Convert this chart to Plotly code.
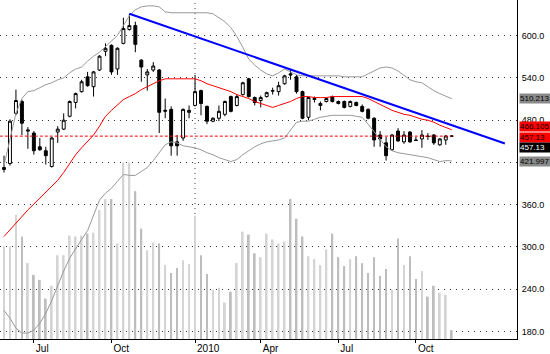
import plotly.graph_objects as go

# ---------------- data (weekly bars) ----------------
opens = [409.8, 418.2, 489.5, 506.3, 464.3, 461.5, 442.0, 436.4, 414.0, 462.9,
         467.1, 485.3, 504.9, 520.3, 541.3, 527.3, 551.0, 577.6, 586.0, 552.4,
         588.8, 608.4, 614.0, 565.0, 544.1, 551.0, 551.0, 492.3, 495.1, 449.0,
         454.5, 490.9, 500.7, 521.7, 499.3, 478.3, 482.5, 488.1, 513.3, 500.7,
         516.1, 538.5, 511.9, 507.7, 513.3, 521.0, 520.3, 531.5, 545.5, 541.3,
         520.3, 483.9, 509.1, 500.7, 506.3, 513.3, 506.3, 506.3, 499.3, 504.9,
         499.3, 495.1, 482.5, 458.7, 447.6, 437.8, 464.3, 449.0, 462.9, 451.7,
         453.1, 457.3, 458.7, 444.8, 451.7, 457.3]
highs = [429.4, 481.1, 523.1, 509.1, 469.9, 464.3, 454.5, 442.0, 455.9, 471.3,
         489.5, 507.7, 518.9, 537.1, 548.3, 549.7, 572.0, 588.8, 587.4, 583.2,
         625.2, 630.8, 619.6, 566.4, 552.4, 562.2, 552.4, 510.5, 499.3, 458.7,
         496.5, 500.7, 544.1, 523.1, 500.7, 483.9, 500.7, 507.7, 514.7, 516.1,
         534.3, 539.9, 513.3, 514.7, 520.3, 525.9, 534.3, 544.1, 552.4, 544.1,
         521.7, 513.3, 513.3, 506.3, 511.9, 514.7, 507.7, 507.7, 507.7, 506.3,
         502.1, 496.5, 483.9, 464.3, 455.9, 460.1, 468.5, 464.3, 464.3, 455.9,
         465.7, 461.5, 460.1, 454.5, 458.7, 458.0]
lows = [405.6, 415.4, 486.7, 458.7, 439.2, 430.8, 436.4, 416.8, 412.6, 447.6,
        465.7, 483.9, 496.5, 518.9, 527.3, 513.3, 549.7, 570.6, 544.1, 544.1,
        587.4, 607.0, 576.2, 534.3, 521.7, 548.3, 461.5, 482.5, 429.4, 429.4,
        450.4, 482.5, 499.3, 486.7, 474.1, 476.9, 478.3, 485.3, 490.9, 499.3,
        514.7, 511.9, 500.7, 497.9, 511.9, 516.1, 514.7, 530.1, 537.1, 517.5,
        481.1, 479.7, 504.9, 493.7, 504.9, 504.9, 502.1, 496.5, 497.9, 499.3,
        490.9, 481.1, 442.0, 442.0, 422.4, 436.4, 449.0, 446.2, 447.6, 450.4,
        440.6, 451.7, 444.8, 443.4, 444.8, 456.6]
closes = [412.6, 478.3, 507.7, 475.5, 465.7, 436.4, 437.8, 429.4, 454.5, 467.1,
          479.7, 506.3, 517.5, 534.3, 528.7, 548.3, 570.6, 581.8, 548.3, 581.8,
          609.8, 614.0, 587.4, 555.2, 548.3, 556.6, 490.9, 493.7, 443.4, 443.4,
          495.1, 493.7, 520.3, 503.5, 478.3, 482.5, 492.3, 506.3, 492.3, 513.3,
          532.9, 513.3, 504.9, 511.9, 518.9, 521.7, 528.7, 542.7, 544.1, 520.3,
          482.5, 511.9, 510.5, 503.5, 510.5, 506.3, 503.5, 497.9, 506.3, 500.7,
          492.3, 482.5, 451.7, 453.1, 429.4, 458.7, 450.4, 458.7, 449.0, 451.0,
          458.7, 456.6, 447.6, 453.1, 457.3, 457.13]
volume = [9.4, 9.4, 12.6, 10.4, 7.7, 6.5, 6.0, 4.1, 5.4, 8.5,
          8.5, 10.5, 10.4, 10.5, 10.7, 10.8, 13.1, 14.2, 14.2, 9.7,
          17.9, 17.9, 15.0, 11.2, 9.0, 9.8, 9.7, 7.5, 6.7, 7.2,
          8.0, 7.6, 12.5, 8.5, 6.6, 5.0, 5.2, 3.7, 4.8, 7.7,
          10.9, 10.6, 8.7, 8.3, 10.7, 10.1, 9.7, 9.9, 14.2, 12.2,
          10.4, 8.4, 8.1, 7.5, 9.1, 10.7, 8.3, 7.4, 8.1, 8.4,
          7.7, 6.7, 8.3, 6.4, 7.1, 5.0, 10.2, 7.5, 8.4, 6.1,
          6.9, 4.3, 5.4, 4.7, 4.5, 0.9]
upper_band = [415.4, 454.5, 489.5, 510.5, 520.3, 521.7, 525.9, 530.1, 532.9, 537.1,
              539.9, 546.9, 552.4, 555.2, 563.6, 570.6, 576.2, 584.6, 591.6, 600.0,
              614.0, 628.0, 636.4, 640.6, 642.0, 642.0, 640.6, 633.6, 632.2, 632.2,
              632.2, 632.2, 632.2, 632.2, 632.2, 630.8, 625.2, 619.6, 611.2, 598.6,
              583.2, 566.4, 558.0, 551.0, 545.5, 542.7, 546.9, 552.4, 548.3, 544.1,
              542.7, 542.7, 542.7, 542.7, 542.7, 542.7, 542.7, 541.3, 541.3, 541.3,
              541.3, 545.5, 549.6, 553.9, 555.2, 553.9, 549.6, 542.7, 537.1, 534.3,
              532.9, 527.3, 521.7, 517.5, 513.3, 510.213]
ma20 = [314.7, 324.5, 332.9, 342.7, 352.4, 360.8, 369.2, 377.6, 386.0, 394.4,
        405.6, 418.2, 430.8, 440.6, 449.0, 458.7, 471.3, 485.3, 493.7, 502.1,
        509.1, 513.3, 517.5, 523.1, 527.3, 531.5, 535.7, 538.5, 538.5, 538.5,
        538.5, 538.5, 538.5, 535.7, 531.5, 528.7, 525.9, 523.1, 520.3, 516.1,
        513.3, 510.5, 506.3, 503.5, 500.7, 497.9, 500.7, 503.5, 506.3, 510.5,
        513.3, 513.3, 511.9, 511.9, 511.9, 513.3, 513.3, 513.3, 513.3, 513.3,
        513.3, 510.5, 506.3, 502.1, 497.9, 493.7, 490.9, 488.1, 486.7, 483.9,
        481.1, 479.7, 476.9, 472.7, 469.9, 466.105]
lower_band = [209.8, 198.6, 184.6, 177.6, 177.6, 181.8, 191.6, 205.6, 223.8, 244.8,
              265.7, 283.9, 297.9, 310.5, 323.1, 344.1, 366.4, 376.2, 383.2, 393.0,
              402.8, 401.4, 401.4, 407.0, 412.6, 422.4, 433.6, 444.8, 449.0, 447.6,
              443.4, 442.0, 440.6, 437.8, 433.6, 430.8, 426.6, 423.8, 421.0, 423.8,
              430.8, 436.4, 442.0, 446.2, 449.0, 450.4, 451.7, 454.5, 465.7, 476.9,
              478.3, 478.3, 481.1, 483.9, 485.3, 486.7, 486.7, 486.7, 486.7, 485.3,
              483.9, 474.1, 462.9, 451.7, 442.0, 436.4, 433.6, 432.2, 430.8, 429.4,
              428.0, 426.6, 423.8, 421.0, 422.4, 421.997]
tick_pos = [5, 18, 32, 43, 56, 69]
tick_labels = ["Jul", "Oct", "2010", "Apr", "Jul", "Oct"]
price_ticks = [180, 240, 300, 360, 420, 480, 540, 600]
price_tick_text = ["180.0", "240.0", "300.0", "360.0", "", "480.0", "540.0", "600.0"]
trend_x = [21, 83.9]
trend_y = [630.8, 446.6]
last_close = 457.13

# ---------------- figure ----------------
n = len(closes)
xs = list(range(n))
FONT = "Liberation Sans, Arial, sans-serif"

vol_colors = ["#d4d4d4" if c >= o else "#bdbdbd" for o, c in zip(opens, closes)]

fig = go.Figure()
fig.add_trace(go.Bar(x=xs, y=volume, width=0.3, marker=dict(color=vol_colors, line=dict(width=0)),
                     yaxis="y", hoverinfo="skip", showlegend=False))
fig.add_trace(go.Scatter(x=xs, y=upper_band, mode="lines", line=dict(color="#999999", width=1),
                         yaxis="y2", hoverinfo="skip", showlegend=False))
fig.add_trace(go.Scatter(x=xs, y=lower_band, mode="lines", line=dict(color="#999999", width=1),
                         yaxis="y2", hoverinfo="skip", showlegend=False))
fig.add_trace(go.Scatter(x=xs, y=ma20, mode="lines", line=dict(color="#ff0000", width=1),
                         yaxis="y2", hoverinfo="skip", showlegend=False))
fig.add_trace(go.Scatter(x=[-0.7, n - 1], y=[last_close, last_close], mode="lines",
                         line=dict(color="#ff0000", width=1, dash="3px,2px"),
                         yaxis="y2", hoverinfo="skip", showlegend=False))
fig.add_trace(go.Candlestick(x=xs, open=opens, high=highs, low=lows, close=closes,
                             increasing=dict(fillcolor="#ffffff", line=dict(color="#000000", width=1)),
                             decreasing=dict(fillcolor="#000000", line=dict(color="#000000", width=1)),
                             yaxis="y2", hoverinfo="skip", showlegend=False))
fig.add_trace(go.Scatter(x=trend_x, y=trend_y, mode="lines", line=dict(color="#0000ff", width=2),
                         yaxis="y2", hoverinfo="skip", showlegend=False))

# vertical dotted year divider
fig.add_shape(type="line", xref="x", yref="paper", x0=tick_pos[2], x1=tick_pos[2], y0=0, y1=1,
              line=dict(color="#444444", width=1, dash="1px,4px"), layer="below")

# right-hand value labels
labels = [
    (upper_band[-1], "{:.3f}".format(upper_band[-1]), "#8a8a8a", "#000000", 0),
    (ma20[-1], "{:.3f}".format(ma20[-1]), "#ff0000", "#000000", 3.5),
    (last_close, "{:.2f}".format(last_close), "#ff0000", "#000000", -1),
    (closes[-1], "{:.2f}".format(closes[-1]), "#000000", "#ffffff", -11),
    (lower_band[-1], "{:.3f}".format(lower_band[-1]), "#8a8a8a", "#000000", -1),
]
for val, txt, bg, fg, shift in labels:
    fig.add_annotation(xref="paper", x=1.0, xanchor="left", xshift=2, yref="y2", y=val,
                       yshift=shift, text=txt, showarrow=False, bgcolor=bg, borderpad=0,
                       height=9, width=31, align="left",
                       font=dict(family=FONT, size=8, color=fg))

fig.update_layout(
    width=550, height=354,
    margin=dict(l=0, r=33, t=0, b=10),
    paper_bgcolor="#ffffff", plot_bgcolor="#ffffff",
    showlegend=False,
    font=dict(family=FONT, size=9, color="#000000"),
    xaxis=dict(range=[-0.67, 85.93], tickmode="array", tickvals=tick_pos, ticktext=tick_labels,
               ticks="outside", ticklen=3, tickcolor="#000000", ticklabelposition="outside right",
               ticklabelshift=1, showline=True, linecolor="#000000", linewidth=1,
               showgrid=False, zeroline=False, rangeslider=dict(visible=False),
               tickfont=dict(family=FONT, size=10)),
    yaxis=dict(range=[0, 34.4], visible=False, showgrid=False, zeroline=False),
    yaxis2=dict(range=[169.2, 650.35], overlaying="y", side="right", tickmode="array",
                tickvals=price_ticks, ticktext=price_tick_text, ticks="", showline=True,
                linecolor="#000000", linewidth=1, showgrid=True, gridcolor="#333333",
                griddash="1px,5px", gridwidth=1, zeroline=False, ticklabelstandoff=2,
                tickfont=dict(family=FONT, size=9)),
)

fig.write_html("out.html")
